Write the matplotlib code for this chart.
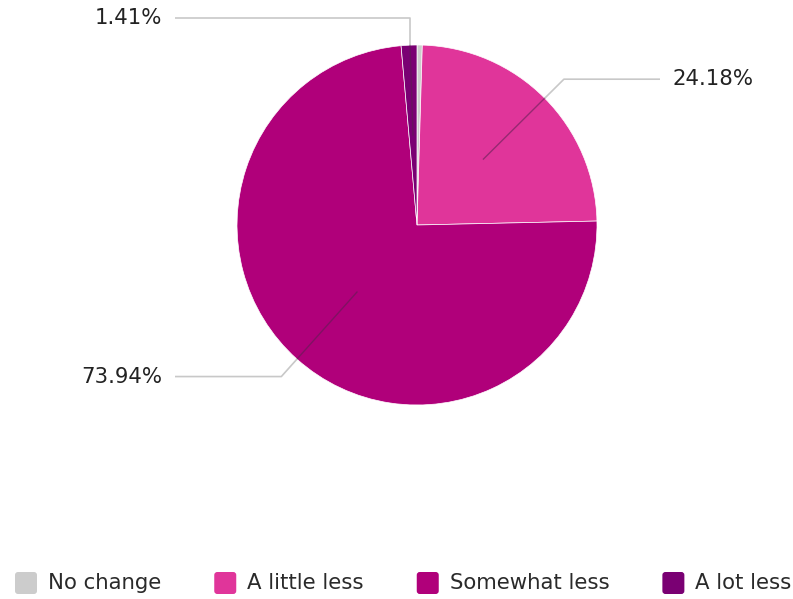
import numpy as np
import matplotlib
matplotlib.use("Agg")
import matplotlib.pyplot as plt
from matplotlib.patches import FancyBboxPatch

categories = ["No change", "A little less", "Somewhat less", "A lot less"]
shares = [0.47, 24.18, 73.94, 1.41]
labels = ["", "24.18%", "73.94%", "1.41%"]
colors = ["#cccccc", "#e0359a", "#b0007a", "#7a0073"]

W, H = 793, 599
fig = plt.figure(figsize=(W / 100, H / 100), dpi=100)
ax = fig.add_axes([0, 0, 1, 1])

cx, cy, R = 417, H - 225, 180
wedges, _ = ax.pie(shares, colors=colors, startangle=90, counterclock=False,
                   center=(cx, cy), radius=R,
                   wedgeprops=dict(edgecolor="white", linewidth=0.5))
ax.set_xlim(0, W)
ax.set_ylim(0, H)
ax.set_aspect("equal")
ax.axis("off")

font = "DejaVu Sans"
fs = 15.3
line_kw = dict(color="#c8c8c8", lw=1.2, solid_capstyle="butt", zorder=3)
inner_kw = dict(color="#5a2050", lw=1.0, alpha=0.55, zorder=3)

# leader lines: elbow points and text anchors per labelled slice
layout = {
    1: dict(r_in=0.52, r_el=1.15, x_end=660, tx=672, ha="left"),
    2: dict(r_in=0.50, r_el=1.13, x_end=175, tx=162, ha="right"),
}
for i, w in enumerate(wedges):
    if not labels[i]:
        continue
    mid = np.deg2rad((w.theta1 + w.theta2) / 2)
    ux, uy = np.cos(mid), np.sin(mid)
    if i in layout:
        L = layout[i]
        x0, y0 = cx + L["r_in"] * R * ux, cy + L["r_in"] * R * uy
        xe, ye = cx + L["r_el"] * R * ux, cy + L["r_el"] * R * uy
        # part inside the pie drawn darker, outside in light grey
        xb, yb = cx + R * ux, cy + R * uy
        ax.plot([x0, xb], [y0, yb], **inner_kw)
        ax.plot([xb, xe, L["x_end"]], [yb, ye, ye], **line_kw)
        ax.text(L["tx"], ye, labels[i], ha=L["ha"], va="center",
                fontsize=fs, color="#222222", family=font)
    else:
        # small slice at the top: vertical leader then across to the left
        x0, y0 = cx + 0.5 * R * ux, cy + 0.5 * R * uy
        xv = 410
        yt = H - 18
        ytop = cy + np.sqrt(R**2 - (xv - cx) ** 2)
        ax.plot([x0, xv], [y0, ytop], **inner_kw)
        ax.plot([xv, xv, 175], [ytop, yt, yt], **line_kw)
        ax.text(162, yt, labels[i], ha="right", va="center",
                fontsize=fs, color="#222222", family=font)

# legend row along the bottom
fig.canvas.draw()
renderer = fig.canvas.get_renderer()
x = 15
ly = H - 583
box = 22
for name, col in zip(categories, colors):
    ax.add_patch(FancyBboxPatch((x + 3, ly - box / 2 + 3), box - 6, box - 6,
                                boxstyle="round,pad=3", facecolor=col,
                                edgecolor="none"))
    t = ax.text(x + box + 11, ly, name, ha="left", va="center",
                fontsize=fs, color="#2a2a2a", family=font)
    bb = t.get_window_extent(renderer)
    x = bb.x1 + 53

fig.savefig("out.png", dpi=100)
